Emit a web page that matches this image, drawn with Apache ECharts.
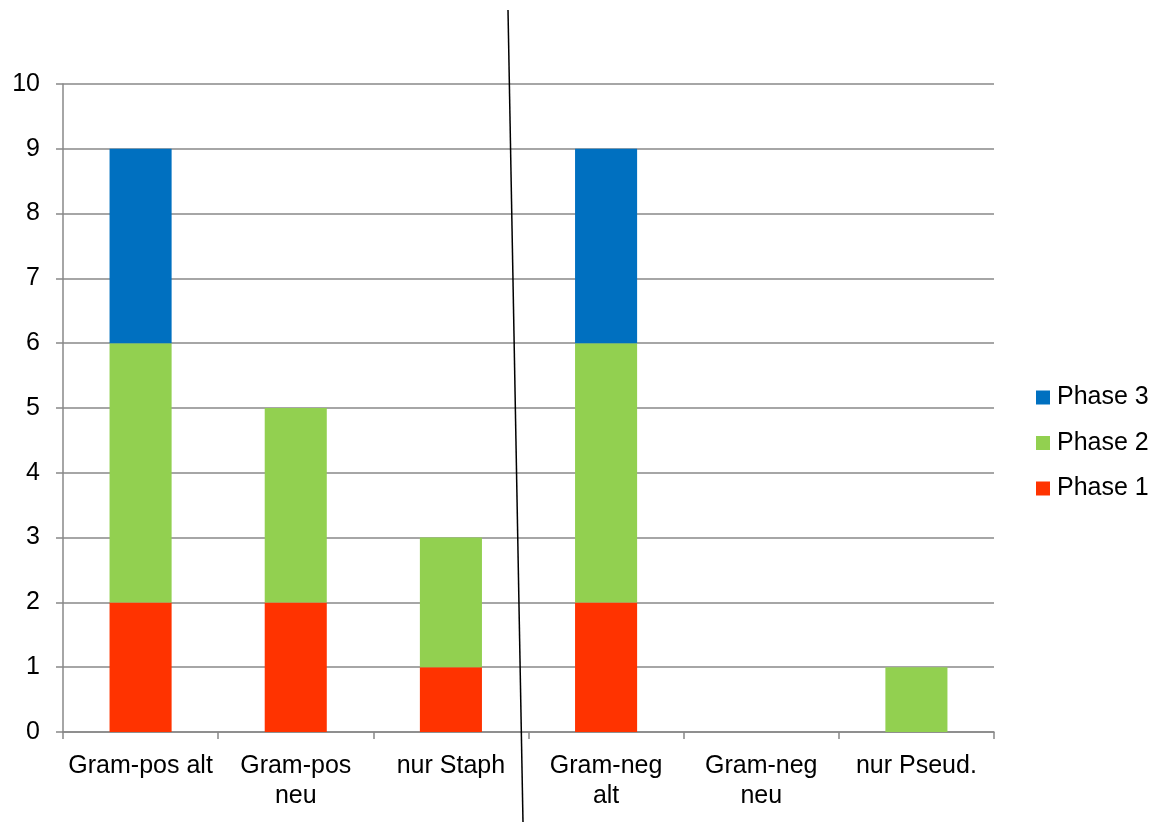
<!DOCTYPE html>
<html>
<head>
<meta charset="utf-8">
<script src="https://cdn.jsdelivr.net/npm/echarts@6/dist/echarts.min.js"></script>
<style>
  html, body { margin: 0; padding: 0; background: #fff; }
  #chart { width: 1158px; height: 822px; }
</style>
</head>
<body>
<div id="chart"></div>
<script>
// Kategorien (Erregergruppen) und Werte je Phase
const categories = ['Gram-pos alt', 'Gram-pos\nneu', 'nur Staph', 'Gram-neg\nalt', 'Gram-neg\nneu', 'nur Pseud.'];
const phase1 = [2, 2, 1, 2, 0, 0];
const phase2 = [4, 3, 2, 4, 0, 1];
const phase3 = [3, 0, 0, 3, 0, 0];
const yTicks = { min: 0, max: 10, interval: 1 };

const font = '"Liberation Sans", Arial, sans-serif';
const gridColor = '#888888';
const fontSize = 25;

const chart = echarts.init(document.getElementById('chart'));

function bar(name, data, color) {
  return {
    name: name,
    type: 'bar',
    stack: 'total',
    data: data,
    barWidth: '40%',
    itemStyle: { color: color },
    emphasis: { disabled: true }
  };
}

chart.setOption({
  animation: false,
  textStyle: { fontFamily: font },
  grid: { left: 63, right: 164, top: 84, bottom: 90 },
  legend: {
    orient: 'vertical',
    left: 1036,
    top: 385,
    padding: 0,
    itemWidth: 14,
    itemHeight: 14,
    itemGap: 20.5,
    icon: 'rect',
    data: ['Phase 3', 'Phase 2', 'Phase 1'],
    textStyle: { fontFamily: font, fontSize: fontSize, color: '#000', padding: [0, 0, 0, 2] }
  },
  xAxis: {
    type: 'category',
    data: categories,
    axisLine: { lineStyle: { color: gridColor, width: 1.5 } },
    axisTick: { show: true, length: 7, lineStyle: { color: gridColor, width: 1.5 } },
    axisLabel: { fontFamily: font, fontSize: fontSize, color: '#000', margin: 19, lineHeight: 30, interval: 0 }
  },
  yAxis: {
    type: 'value',
    min: yTicks.min,
    max: yTicks.max,
    interval: yTicks.interval,
    axisLine: { show: true, lineStyle: { color: gridColor, width: 1.5 } },
    axisTick: { show: true, length: 7, lineStyle: { color: gridColor, width: 1.5 } },
    splitLine: { lineStyle: { color: gridColor, width: 1.5 } },
    axisLabel: { fontFamily: font, fontSize: fontSize, color: '#000', margin: 23 }
  },
  series: [
    bar('Phase 1', phase1, '#FF3300'),
    bar('Phase 2', phase2, '#92D050'),
    bar('Phase 3', phase3, '#0070C0')
  ],
  // Trennlinie zwischen grampositiven und gramnegativen Gruppen
  graphic: [{
    type: 'line',
    z: 100,
    shape: { x1: 508, y1: 10, x2: 523, y2: 822 },
    style: { stroke: '#000', lineWidth: 1.5 }
  }]
});
</script>
</body>
</html>
